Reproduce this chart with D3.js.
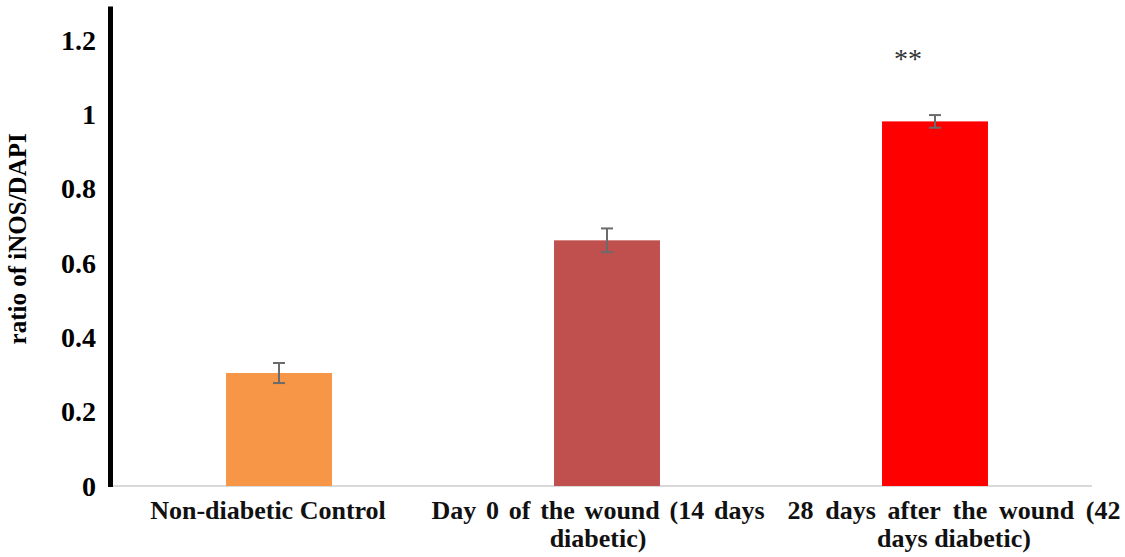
<!DOCTYPE html>
<html>
<head>
<meta charset="utf-8">
<script src="https://cdnjs.cloudflare.com/ajax/libs/d3/7.8.5/d3.min.js"></script>
<style>
  body { margin: 0; background: #fff; }
  text { font-family: "Liberation Serif", "Times New Roman", serif; }
</style>
</head>
<body>
<script>
// values
const categories = [
  "Non-diabetic Control",
  "Day 0 of the wound (14 days diabetic)",
  "28 days after the wound (42 days diabetic)"
];
const ratios = [0.304, 0.661, 0.981];
const errors = [0.027, 0.032, 0.017];
const barColors = ["#F79646", "#C0504D", "#FF0000"];
const yTicks = [0, 0.2, 0.4, 0.6, 0.8, 1, 1.2];
const significance = ["", "", "**"];

const width = 1125;
const height = 557;

const x = d3.scaleBand()
  .domain(categories)
  .range([115, 1099])
  .paddingInner(0.677)
  .paddingOuter(0.3385);

const y = d3.scaleLinear()
  .domain([0, 1.2])
  .range([486, 40]);

const svg = d3.select("body").append("svg")
  .attr("width", width)
  .attr("height", height);

// x axis baseline (light gray)
svg.append("line")
  .attr("x1", 110).attr("x2", 1092)
  .attr("y1", y(0)).attr("y2", y(0))
  .attr("stroke", "#d9d9d9")
  .attr("stroke-width", 2);

// bars
svg.selectAll("rect.bar")
  .data(categories)
  .enter().append("rect")
  .attr("class", "bar")
  .attr("x", d => x(d))
  .attr("width", x.bandwidth())
  .attr("y", (d, i) => y(ratios[i]))
  .attr("height", (d, i) => y(0) - y(ratios[i]))
  .attr("fill", (d, i) => barColors[i]);

// error bars
const err = svg.selectAll("g.err")
  .data(categories)
  .enter().append("g")
  .attr("class", "err")
  .attr("stroke", "#6b6b6b")
  .attr("stroke-width", 2);

const cx = d => x(d) + x.bandwidth() / 2;
err.append("line")
  .attr("x1", cx).attr("x2", cx)
  .attr("y1", (d, i) => y(ratios[i] + errors[i]))
  .attr("y2", (d, i) => y(ratios[i] - errors[i]));
err.append("line")
  .attr("x1", d => cx(d) - 6).attr("x2", d => cx(d) + 6)
  .attr("y1", (d, i) => y(ratios[i] + errors[i]))
  .attr("y2", (d, i) => y(ratios[i] + errors[i]));
err.append("line")
  .attr("x1", d => cx(d) - 6).attr("x2", d => cx(d) + 6)
  .attr("y1", (d, i) => y(ratios[i] - errors[i]))
  .attr("y2", (d, i) => y(ratios[i] - errors[i]));

// significance stars
svg.selectAll("text.sig")
  .data(categories)
  .enter().append("text")
  .attr("class", "sig")
  .attr("x", d => cx(d) - 27)
  .attr("y", y(1.125))
  .attr("text-anchor", "middle")
  .attr("font-size", 28)
  .attr("fill", "#333")
  .text((d, i) => significance[i]);

// y axis: thick black line, no tick marks
svg.append("line")
  .attr("x1", 110.5).attr("x2", 110.5)
  .attr("y1", y(0) + 1).attr("y2", y(1.29))
  .attr("stroke", "#000")
  .attr("stroke-width", 5);

svg.selectAll("text.ytick")
  .data(yTicks)
  .enter().append("text")
  .attr("class", "ytick")
  .attr("x", 96)
  .attr("y", d => y(d))
  .attr("dy", "0.35em")
  .attr("text-anchor", "end")
  .attr("font-size", 28)
  .attr("font-weight", "bold")
  .text(d => d3.format("~g")(d));

svg.append("text")
  .attr("transform", `translate(26,${y(0.665)}) rotate(-90)`)
  .attr("text-anchor", "middle")
  .attr("font-size", 25)
  .attr("font-weight", "bold")
  .text("ratio of iNOS/DAPI");

// category labels: wrap, justify full lines, centre the last line
const labelWidth = 333;
const labelShift = [-11, -9, 19];
svg.selectAll("g.xlab")
  .data(categories)
  .enter().append("g")
  .attr("class", "xlab")
  .attr("transform", (d, i) => `translate(${cx(d) + labelShift[i]},519)`)
  .each(function (d) {
    const g = d3.select(this);
    const words = d.split(" ");
    const probe = g.append("text")
      .attr("font-size", 26).attr("font-weight", "bold");
    const measure = s => { probe.text(s); return probe.node().getComputedTextLength(); };
    const lines = [];
    let cur = [];
    words.forEach(w => {
      const test = cur.concat(w).join(" ");
      if (cur.length && measure(test) > labelWidth) { lines.push(cur); cur = [w]; }
      else cur.push(w);
    });
    lines.push(cur);

    lines.forEach((ln, li) => {
      const ty = li * 28;
      const last = li === lines.length - 1;
      if (last || ln.length < 2) {
        g.append("text")
          .attr("x", 0).attr("y", ty)
          .attr("text-anchor", "middle")
          .attr("font-size", 26).attr("font-weight", "bold")
          .attr("fill", "#111")
          .text(ln.join(" "));
      } else {
        const ws = ln.map(w => measure(w));
        const gap = (labelWidth - d3.sum(ws)) / (ln.length - 1);
        let px = -labelWidth / 2;
        ln.forEach((w, wi) => {
          g.append("text")
            .attr("x", px).attr("y", ty)
            .attr("font-size", 26).attr("font-weight", "bold")
            .attr("fill", "#111")
            .text(w);
          px += ws[wi] + gap;
        });
      }
    });
    probe.remove();
  });
</script>
</body>
</html>
